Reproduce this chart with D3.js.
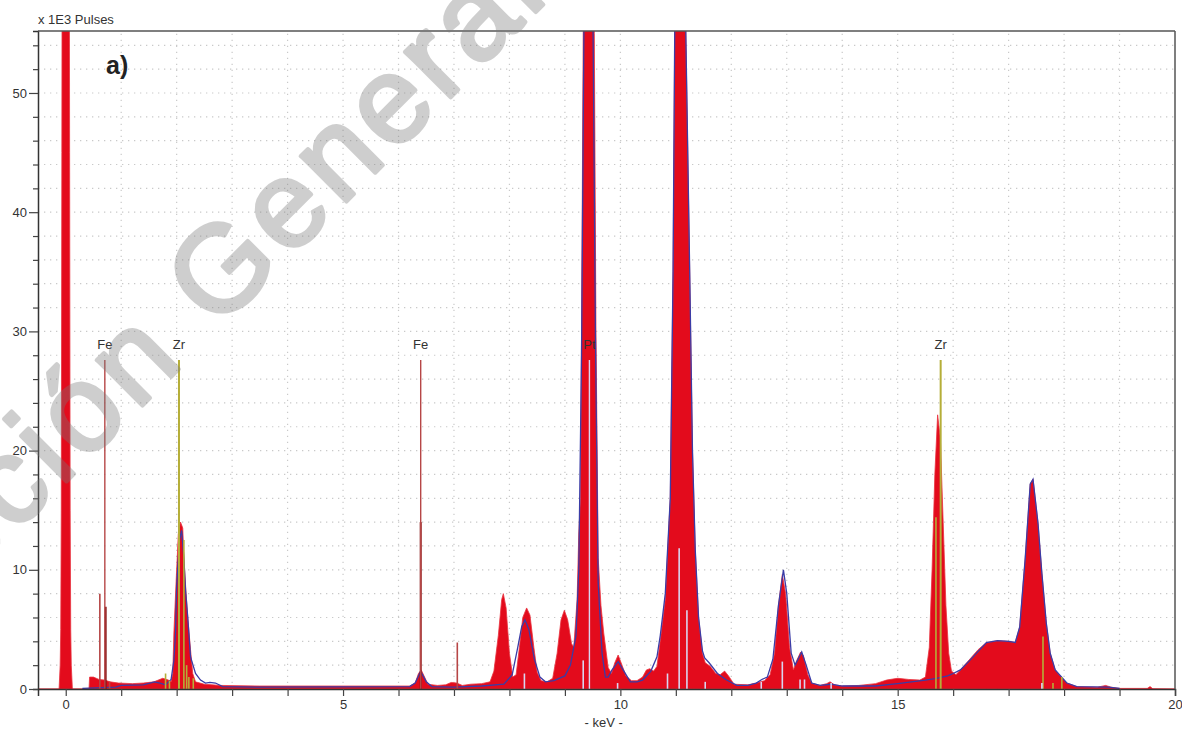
<!DOCTYPE html>
<html>
<head>
<meta charset="utf-8">
<script src="https://cdn.jsdelivr.net/npm/d3@7"></script>
<style>
  html, body { margin: 0; padding: 0; background: #fff; }
  svg { display: block; font-family: "Liberation Sans", Arial, sans-serif; }
</style>
</head>
<body>
<svg id="chart" width="1182" height="730"></svg>
<script>
// EDX spectrum: energy (keV) vs counts (x 1E3 pulses)
const spectrumKeV = [
  -0.5, -0.12, -0.1, -0.09, -0.08, -0.07, -0.06, 0, 0.06, 0.07, 0.08, 0.09, 0.1, 0.12,
  0.42, 0.43, 0.5, 0.55, 0.6, 0.7, 0.8, 0.95, 1.2, 1.4, 1.59, 1.75, 1.85, 1.9,
  1.93, 1.95, 1.99, 2.03, 2.07, 2.11, 2.13, 2.17, 2.2, 2.25, 2.29, 2.34, 2.5, 2.8,
  3.5, 5.0, 6.2, 6.3, 6.36, 6.41, 6.46, 6.53, 6.7, 6.85, 6.95, 7.05, 7.15, 7.3,
  7.5, 7.65, 7.72, 7.8, 7.86, 7.89, 7.94, 8.0, 8.06, 8.12, 8.18, 8.24, 8.31, 8.37,
  8.44, 8.5, 8.57, 8.68, 8.78, 8.86, 8.93, 8.99, 9.05, 9.12, 9.16, 9.22, 9.25, 9.28,
  9.3, 9.33, 9.38, 9.43, 9.48, 9.53, 9.56, 9.6, 9.65, 9.7, 9.78, 9.84, 9.9, 9.96,
  10.03, 10.1, 10.2, 10.3, 10.4, 10.47, 10.53, 10.6, 10.66, 10.72, 10.81, 10.9, 10.95, 10.98,
  11.03, 11.1, 11.18, 11.25, 11.3, 11.35, 11.41, 11.48, 11.53, 11.62, 11.72, 11.8, 11.88, 11.95,
  12.05, 12.3, 12.45, 12.6, 12.7, 12.78, 12.85, 12.92, 12.98, 13.05, 13.12, 13.18, 13.25, 13.3,
  13.38, 13.45, 13.6, 13.72, 13.78, 13.86, 14.0, 14.3, 14.6, 14.8, 15.0, 15.2, 15.4, 15.5,
  15.57, 15.62, 15.67, 15.72, 15.77, 15.82, 15.87, 15.92, 15.97, 16.05, 16.13, 16.3, 16.45, 16.6,
  16.8, 17.0, 17.12, 17.2, 17.3, 17.39, 17.44, 17.53, 17.6, 17.68, 17.75, 17.84, 17.95, 18.05,
  18.23, 18.6, 18.75, 18.85, 19.0, 19.5, 19.55, 19.6, 20.0
];
const spectrumCounts = [
  0, 0, 2, 5, 15, 45, 80, 110, 80, 45, 15, 5, 2, 0,
  0, 1.0, 1.0, 0.9, 0.8, 0.75, 0.6, 0.5, 0.45, 0.5, 0.6, 0.9, 0.75, 0.6,
  1.3, 4.7, 9, 13, 14, 13.5, 11, 8, 6, 3.3, 1.3, 0.6, 0.4, 0.3,
  0.25, 0.25, 0.25, 0.5, 1.3, 1.6, 1.1, 0.4, 0.3, 0.35, 0.55, 0.5, 0.3, 0.4,
  0.45, 0.6, 1.5, 4.5, 7.5, 8.0, 6.8, 3, 1.0, 1.2, 3.5, 6.0, 6.8, 6.2,
  3.5, 1.4, 0.7, 0.6, 0.9, 3.0, 5.8, 6.6, 5.8, 3.8, 3.5, 7.5, 13, 16,
  30, 55, 100, 120, 100, 55, 30, 11, 7, 4.7, 1.8, 1.3, 2.2, 2.85,
  2.0, 1.1, 0.7, 0.7, 1.0, 1.6, 1.7, 1.5, 1.9, 4.1, 7.5, 16, 35, 55,
  90, 90, 55, 35, 20, 11.7, 6, 3.0, 2.2, 1.9, 1.3, 1.2, 1.5, 1.1,
  0.4, 0.35, 0.5, 0.7, 1.2, 3, 7, 9.6, 8, 3.5, 1.6, 2.4, 3.1, 2.8,
  1.2, 0.5, 0.3, 0.45, 0.6, 0.35, 0.25, 0.3, 0.45, 0.75, 0.9, 0.8, 0.75, 1.0,
  3.5, 10, 18, 23, 21, 14, 7, 3, 1.5, 1.2, 1.6, 2.5, 3.3, 3.9,
  4.05, 4.0, 3.9, 5.2, 11, 17.2, 17.6, 13.9, 9.7, 5.5, 3.0, 1.6, 1.0, 0.5,
  0.2, 0.15, 0.3, 0.15, 0.05, 0.05, 0.2, 0.02, 0
];

// Fitted profile (blue trace)
const fitKeV = [
  0.3, 0.9, 1.0, 1.4, 1.6, 1.7, 1.8, 1.9, 1.95, 1.98, 2.0, 2.05, 2.09, 2.13,
  2.16, 2.2, 2.25, 2.34, 2.43, 2.52, 2.6, 2.7, 2.83, 3.5, 6.2, 6.3, 6.4, 6.5,
  6.6, 7.0, 7.5, 7.9, 8.05, 8.15, 8.22, 8.28, 8.35, 8.45, 8.55, 8.65, 8.8, 9.0,
  9.1, 9.2, 9.25, 9.3, 9.35, 9.43, 9.5, 9.55, 9.6, 9.67, 9.73, 9.78, 9.85, 9.96,
  10.05, 10.18, 10.3, 10.4, 10.55, 10.66, 10.72, 10.81, 10.9, 10.95, 10.98, 11.03, 11.1, 11.18,
  11.25, 11.3, 11.35, 11.41, 11.48, 11.52, 11.6, 11.75, 11.9, 12.1, 12.3, 12.45, 12.55, 12.65,
  12.75, 12.85, 12.94, 13.0, 13.08, 13.15, 13.27, 13.35, 13.45, 13.6, 13.8, 14.0, 14.6, 15.0,
  15.5, 15.7, 15.9, 16.0, 16.13, 16.3, 16.6, 16.8, 17.0, 17.12, 17.2, 17.3, 17.39, 17.44,
  17.53, 17.6, 17.68, 17.75, 17.84, 18.05, 18.23, 18.8, 19.0
];
const fitCounts = [
  0.05, 0.15, 0.3, 0.35, 0.6, 0.5, 0.35, 0.8, 2.4, 4.7, 8.6, 12.5, 13.3, 11,
  8.3, 6.0, 2.7, 1.3, 0.75, 0.5, 0.55, 0.5, 0.2, 0.15, 0.2, 0.5, 1.5, 0.6,
  0.2, 0.15, 0.25, 0.4, 1.2, 3.5, 5.2, 5.8, 5.0, 2.5, 1.0, 0.6, 0.7, 1.1,
  2.0, 4.5, 10, 28, 60, 110, 60, 30, 8.9, 3, 1.0, 1.0, 1.6, 2.3,
  1.6, 0.6, 0.6, 0.75, 1.5, 2.7, 4.5, 8, 16, 35, 55, 90, 90, 55,
  35, 20, 11.7, 6, 3.2, 2.6, 2.2, 1.3, 0.8, 0.3, 0.3, 0.5, 0.8, 1.0,
  2.5, 7, 10, 8, 3, 2, 3.1, 2, 0.5, 0.3, 0.4, 0.25, 0.25, 0.45,
  0.75, 0.9, 1.1, 1.3, 1.6, 2.4, 3.9, 4.05, 4.0, 3.9, 5.2, 11, 17.2, 17.6,
  13.9, 9.7, 5.5, 3.0, 1.6, 0.5, 0.2, 0.15, 0.05
];

// Labelled element lines
const lineSymbols = ["Fe", "Zr", "Fe", "Pt", "Zr"];
const lineKeV = [0.705, 2.042, 6.40, 9.442, 15.775];
const lineHeight = 27.6;

// Secondary emission lines: energy, height, element
const minorKeV = [0.615, 0.72, 0.79, 6.40, 7.06,
  1.80, 1.87, 2.13, 2.18, 2.22, 2.30, 15.69, 17.62, 17.80, 17.96,
  8.27, 9.33, 9.95, 10.85, 11.06, 11.20, 11.53, 12.54, 12.92, 13.24, 13.32, 13.80, 17.60];
const minorHeight = [8.0, 6.9, 0.6, 14.0, 3.9,
  1.3, 0.7, 12.5, 2.0, 1.0, 0.9, 14.4, 4.4, 0.5, 1.0,
  1.3, 2.4, 0.5, 1.3, 11.8, 6.6, 0.6, 0.6, 2.3, 0.8, 0.8, 0.5, 0.5];
const minorElement = ["Fe", "FeK", "Fe", "FeK", "Fe",
  "Zr", "Zr", "Zr", "Zr", "Zr", "Zr", "Zr", "Zr", "Zr", "Zr",
  "Pt", "Pt", "Pt", "Pt", "Pt", "Pt", "Pt", "Pt", "Pt", "Pt", "Pt", "Pt", "Pt"];

const xTickValues = d3.range(0, 21, 1);
const yTickValues = d3.range(0, 55, 2);

const colors = { Fe: "#b64646", FeK: "#861818", Zr: "#b5ae38", Pt: "#d9d5f0" };

const svg = d3.select("#chart");
const W = 1182, H = 730;
const m = { left: 38, top: 31, right: 7, bottom: 41 };

const x = d3.scaleLinear().domain([-0.5, 20]).range([m.left, W - m.right]);
const y = d3.scaleLinear().domain([0, 55.2]).range([H - m.bottom, m.top]);

svg.append("defs").append("clipPath").attr("id", "plot")
  .append("rect").attr("x", m.left).attr("y", m.top)
  .attr("width", W - m.right - m.left).attr("height", H - m.bottom - m.top);

// dotted grid
const grid = svg.append("g").attr("stroke", "#c9c9c9").attr("stroke-width", 1.2)
  .attr("stroke-dasharray", "1.3,4.7");
grid.selectAll(".gx").data(xTickValues.filter(d => d > 0 && d < 20)).join("line")
  .attr("x1", d => x(d)).attr("x2", d => x(d)).attr("y1", y(0)).attr("y2", m.top);
grid.selectAll(".gy").data(yTickValues.filter(d => d > 0)).join("line")
  .attr("y1", d => y(d)).attr("y2", d => y(d)).attr("x1", m.left).attr("x2", W - m.right);

const plot = svg.append("g").attr("clip-path", "url(#plot)");

const spectrum = spectrumKeV.map((e, i) => [e, spectrumCounts[i]]);
const fit = fitKeV.map((e, i) => [e, fitCounts[i]]);

plot.append("path").datum(spectrum)
  .attr("fill", "#e30b1c")
  .attr("stroke", "#e8323f").attr("stroke-width", 0.8)
  .attr("d", d3.area().x(d => x(d[0])).y0(y(0)).y1(d => y(d[1])));

plot.append("path").datum(fit)
  .attr("fill", "none").attr("stroke", "#3b3ca6").attr("stroke-width", 1.3)
  .attr("d", d3.line().x(d => x(d[0])).y(d => y(d[1])));

// secondary lines
plot.selectAll(".minor").data(minorKeV).join("line")
  .attr("x1", d => x(d)).attr("x2", d => x(d))
  .attr("y1", y(0))
  .attr("y2", (d, i) => y(minorHeight[i]))
  .attr("stroke", (d, i) => colors[minorElement[i]])
  .attr("stroke-width", (d, i) => minorElement[i] === "FeK" ? 2 : 1.6);

// labelled lines
const lab = svg.append("g");
lab.selectAll("line").data(lineKeV).join("line")
  .attr("x1", d => x(d)).attr("x2", d => x(d))
  .attr("y1", y(0)).attr("y2", y(lineHeight))
  .attr("stroke", (d, i) => colors[lineSymbols[i]])
  .attr("stroke-width", (d, i) => lineSymbols[i] === "Zr" ? 2 : 1.4);
lab.selectAll("text").data(lineKeV).join("text")
  .attr("x", d => x(d)).attr("y", y(lineHeight) - 11)
  .attr("text-anchor", "middle").attr("font-size", 13).attr("fill", "#333")
  .text((d, i) => lineSymbols[i]);

// axes
const xAxis = d3.axisBottom(x).tickValues(xTickValues).tickSize(7).tickPadding(4)
  .tickFormat(d => d % 5 === 0 ? d : "");
const gx = svg.append("g").attr("transform", `translate(0,${y(0)})`).call(xAxis);
gx.select(".domain").attr("stroke", "#333").attr("stroke-width", 1.5);
gx.selectAll(".tick line").attr("stroke", "#444").attr("stroke-width", 1.2);
gx.selectAll(".tick text").attr("font-size", 13).attr("fill", "#333")
  .attr("font-family", "Liberation Sans, Arial, sans-serif");

const yAxis = d3.axisLeft(y).tickValues(yTickValues).tickSize(5).tickPadding(4)
  .tickFormat(d => d % 10 === 0 ? d : "");
const gy = svg.append("g").attr("transform", `translate(${m.left},0)`).call(yAxis);
gy.select(".domain").attr("stroke", "#333").attr("stroke-width", 1.5);
gy.selectAll(".tick line").attr("stroke", "#444").attr("stroke-width", 1.2)
  .attr("x2", d => d % 10 === 0 ? -9 : -5);
gy.selectAll(".tick text").attr("font-size", 13).attr("fill", "#333")
  .attr("x", -11).attr("font-family", "Liberation Sans, Arial, sans-serif");

// frame top and right
svg.append("line").attr("x1", m.left).attr("x2", W - m.right).attr("y1", m.top).attr("y2", m.top)
  .attr("stroke", "#555").attr("stroke-width", 1.5);
svg.append("line").attr("x1", W - m.right).attr("x2", W - m.right).attr("y1", m.top).attr("y2", y(0))
  .attr("stroke", "#555").attr("stroke-width", 1.5);

svg.append("text").attr("x", 38).attr("y", 24).attr("font-size", 13).attr("fill", "#333")
  .text("x 1E3 Pulses");
svg.append("text").attr("x", x(9.7)).attr("y", 727).attr("text-anchor", "middle")
  .attr("font-size", 13).attr("fill", "#333").text("- keV -");
svg.append("text").attr("x", 106).attr("y", 74).attr("font-size", 25)
  .attr("font-weight", "bold").attr("fill", "#222").text("a)");

// watermark (group opacity so fill and stroke blend as one shape)
svg.append("g").attr("opacity", 0.36)
  .append("text")
  .attr("transform", "translate(-34,582) rotate(-45)")
  .attr("font-size", 122).attr("letter-spacing", 6)
  .attr("fill", "#7a7a7a")
  .attr("stroke", "#7a7a7a").attr("stroke-width", 4).attr("stroke-linejoin", "round")
  .text("cción General de");
</script>
</body>
</html>
